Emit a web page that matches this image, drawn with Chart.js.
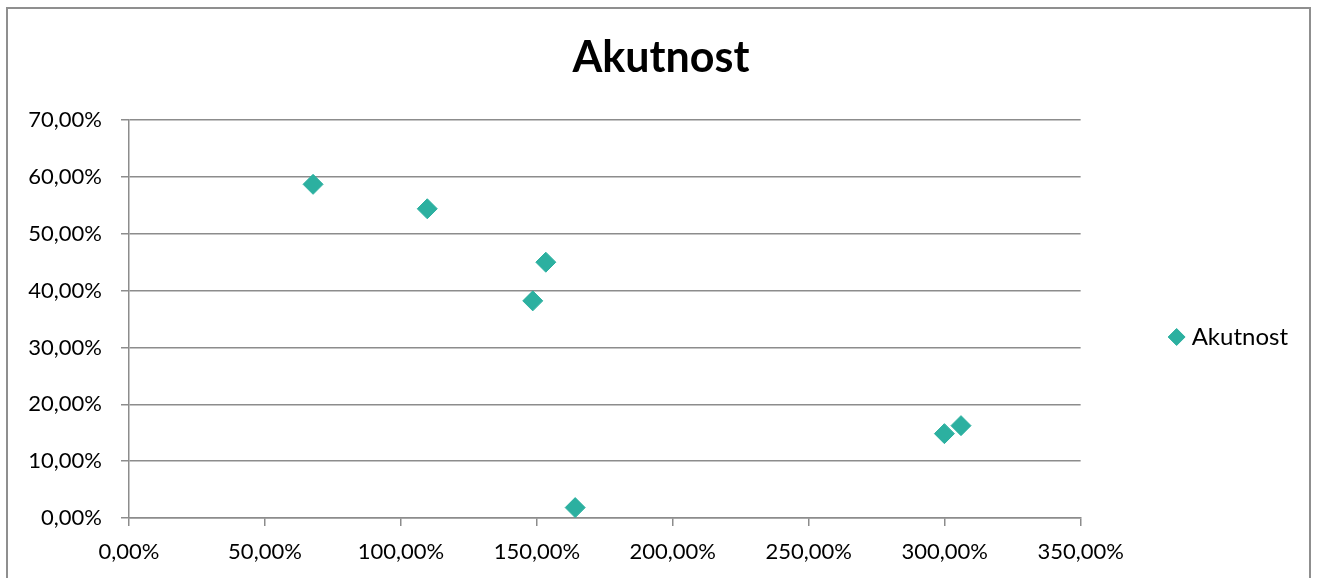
<!DOCTYPE html>
<html>
<head>
<meta charset="utf-8">
<title>Akutnost</title>
<script src="https://cdn.jsdelivr.net/npm/chart.js@4/dist/chart.umd.min.js"></script>
<style>
  html, body { margin: 0; padding: 0; background: #ffffff; overflow: hidden; }
  #wrap { position: relative; width: 1319px; height: 578px; }
  #frame {
    position: absolute; left: 6px; top: 7px; width: 1305px; height: 600px;
    border: 2px solid #8f8f8f; box-sizing: border-box; pointer-events: none;
  }
  canvas { position: absolute; left: 0; top: 0; }
</style>
</head>
<body>
<div id="wrap">
  <canvas id="chart" width="1319" height="578"></canvas>
  <div id="frame"></div>
</div>
<script>
// Series values (percent units)
const seriesName = 'Akutnost';
const xValues = [67.7, 109.7, 153.3, 148.5, 164.1, 299.9, 306.0];
const yValues = [58.7, 54.4, 45.0, 38.2, 1.83, 14.84, 16.25];

// Axis tick values
const xTicks = [0, 50, 100, 150, 200, 250, 300, 350];
const yTicks = [0, 10, 20, 30, 40, 50, 60, 70];

const markerColor = '#2cb0a0';
const gridColor = '#8c8c8c';
const fontFamily = 'Lato, "Open Sans", sans-serif';

const points = xValues.map((x, i) => ({ x: x, y: yValues[i] }));
const fmt = v => Number(v).toFixed(2).replace('.', ',') + '%';

new Chart(document.getElementById('chart'), {
  type: 'scatter',
  data: {
    datasets: [{
      label: seriesName,
      data: points,
      pointStyle: 'rectRot',
      pointRadius: 10,
      pointHoverRadius: 10,
      backgroundColor: markerColor,
      borderColor: markerColor,
      borderWidth: 1
    }]
  },
  options: {
    responsive: false,
    animation: false,
    events: [],
    layout: { padding: { left: 24, right: 21, top: 0, bottom: 0 } },
    plugins: {
      tooltip: { enabled: false },
      title: {
        display: true,
        text: seriesName,
        color: '#000000',
        font: { family: fontFamily, size: 43, weight: 'bold' },
        padding: { top: 32.5, bottom: 36 }
      },
      legend: {
        display: true,
        position: 'right',
        title: { display: true, text: '', font: { size: 12 }, padding: { top: 0, bottom: 81.6 } },
        labels: {
          usePointStyle: true,
          boxWidth: 6,
          boxHeight: 12,
          color: '#000000',
          font: { family: fontFamily, size: 24 },
          padding: 10
        }
      }
    },
    scales: {
      x: {
        type: 'linear',
        min: 0,
        max: 350,
        afterBuildTicks: s => { s.ticks = xTicks.map(v => ({ value: v })); },
        afterFit: s => { s.height = 60; },
        grid: { drawOnChartArea: false, drawTicks: true, tickLength: 8, color: gridColor, lineWidth: 1.5 },
        border: { display: true, color: gridColor, width: 1.5 },
        ticks: {
          padding: 13,
          maxRotation: 0,
          color: '#000000',
          font: { family: fontFamily, size: 22 },
          callback: v => fmt(v)
        }
      },
      y: {
        type: 'linear',
        min: 0,
        max: 70,
        afterBuildTicks: s => { s.ticks = yTicks.map(v => ({ value: v })); },
        afterFit: s => { s.width = 105; },
        grid: { drawTicks: true, tickLength: 8, color: gridColor, lineWidth: 1.5 },
        border: { display: true, color: gridColor, width: 1.5 },
        ticks: {
          padding: 19,
          color: '#000000',
          font: { family: fontFamily, size: 22 },
          callback: v => fmt(v)
        }
      },
      // empty spacer between the plot and the legend
      gap: {
        type: 'linear',
        position: 'right',
        display: true,
        afterFit: s => { s.width = 83; },
        grid: { display: false },
        border: { display: false },
        ticks: { display: false }
      }
    }
  }
});
</script>
</body>
</html>
